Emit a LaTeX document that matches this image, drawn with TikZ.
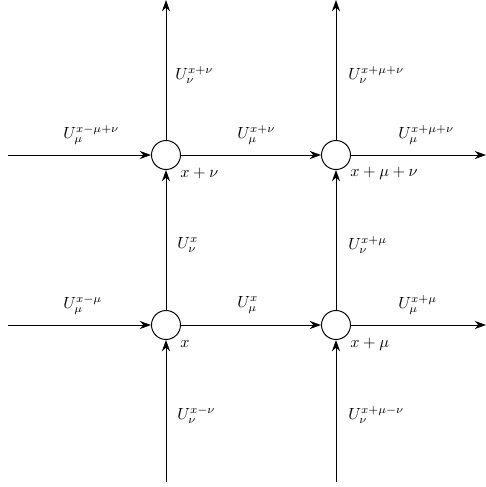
\documentclass[tikz,border=0pt]{standalone}
\usetikzlibrary{arrows.meta}
\begin{document}
\begin{tikzpicture}[x=0.62pt,y=-0.62pt,
  site/.style={circle,draw,fill=white,line width=0.6pt,minimum size=29*0.62pt,inner sep=0pt},
  link/.style={line width=0.6pt,-{Stealth[length=7pt,width=5pt]}},
  plain/.style={line width=0.6pt},
  lab/.style={anchor=west,inner sep=0pt}]
\useasboundingbox (0,0) rectangle (486,487);
% sites
\node[site] (a) at (166,325) {};
\node[site] (b) at (336,325) {};
\node[site] (c) at (166,155) {};
\node[site] (d) at (336,155) {};
% free ends
\coordinate (wa) at (8,325);
\coordinate (ea) at (486,325);
\coordinate (wc) at (8,155);
\coordinate (ec) at (486,155);
\coordinate (sa) at (166,482);
\coordinate (sb) at (336,482);
\coordinate (nc) at (166,0);
\coordinate (nd) at (336,0);
% horizontal links
\draw[link] (wa) -- (a);
\draw[link] (a) -- (b);
\draw[link] (b) -- (ea);
\draw[link] (wc) -- (c);
\draw[link] (c) -- (d);
\draw[link] (d) -- (ec);
% vertical links
\draw[link] (sa) -- (a);
\draw[link] (a) -- (c);
\draw[link] (c) -- (nc);
\draw[link] (sb) -- (b);
\draw[link] (b) -- (d);
\draw[link] (d) -- (nd);
% labels
\node[lab] (l1) at (175,75) {$U_\nu^{x+\nu}$};
\node[lab] (l2) at (348,75) {$U_\nu^{x+\mu+\nu}$};
\node[lab] (l3) at (63,135) {$U_\mu^{x-\mu+\nu}$};
\node[lab] (l4) at (237,135) {$U_\mu^{x+\nu}$};
\node[lab] (l5) at (398,135) {$U_\mu^{x+\mu+\nu}$};
\node[lab] (l6) at (180,173) {$x+\nu$};
\node[lab] (l7) at (350,173) {$x+\mu+\nu$};
\node[lab] (l8) at (177,245) {$U_\nu^{x}$};
\node[lab] (l9) at (348,245) {$U_\nu^{x+\mu}$};
\node[lab] (l10) at (63,305) {$U_\mu^{x-\mu}$};
\node[lab] (l11) at (237,305) {$U_\mu^{x}$};
\node[lab] (l12) at (398,305) {$U_\mu^{x+\mu}$};
\node[lab] (l13) at (180,344) {$x$};
\node[lab] (l14) at (350,344) {$x+\mu$};
\node[lab] (l15) at (177,415) {$U_\nu^{x-\nu}$};
\node[lab] (l16) at (348,415) {$U_\nu^{x+\mu-\nu}$};
\end{tikzpicture}
\end{document}
